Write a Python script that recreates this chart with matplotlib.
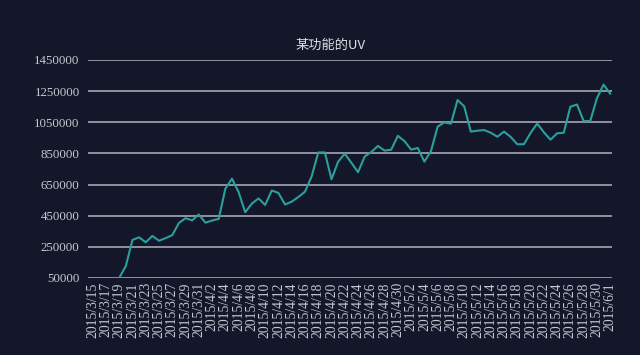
import matplotlib
matplotlib.use("Agg")
import matplotlib.pyplot as plt
import numpy as np
import datetime as dt

plt.rcParams['font.family'] = ['Noto Sans CJK SC', 'DejaVu Sans']

# Categories: every day from 2015/3/15 to 2015/6/1
start = dt.date(2015, 3, 15)
dates = [start + dt.timedelta(days=i) for i in range(79)]
date_labels = [f"{d.year}/{d.month}/{d.day}" for d in dates]

# UV values (no data before 2015/3/19)
uv = [np.nan, np.nan, np.nan, np.nan,
      50000, 127000, 294000, 311000, 279000, 320000, 289000, 306000, 325000,
      403000, 434000, 420000, 458000, 405000, 419000, 429000, 623000, 688000,
      601000, 472000, 528000, 561000, 519000, 612000, 596000, 522000, 540000,
      570000, 604000, 701000, 856000, 856000, 684000, 797000, 848000, 790000,
      729000, 830000, 859000, 898000, 868000, 874000, 963000, 929000, 874000,
      885000, 797000, 866000, 1022000, 1049000, 1041000, 1193000, 1152000,
      990000, 996000, 1000000, 983000, 957000, 990000, 956000, 909000, 909000,
      981000, 1042000, 986000, 938000, 979000, 983000, 1150000, 1164000,
      1058000, 1058000, 1204000, 1292000, 1234000]

yticks = [50000, 250000, 450000, 650000, 850000, 1050000, 1250000, 1450000]
title = "某功能的UV"

bg = "#131729"
fig = plt.figure(figsize=(6.4, 3.55), dpi=100, facecolor=bg)
ax = fig.add_axes([0.1375, 0.217, 0.819, 0.614], facecolor=bg)

x = np.arange(len(dates))
ax.plot(x, uv, color="#2a9f9c", lw=1.5, zorder=3)

ax.set_ylim(50000, 1450000)
ax.set_xlim(-0.7, 78.3)
ax.set_yticks(yticks)
ax.set_yticklabels([str(v) for v in yticks], family="Liberation Serif",
                   fontsize=9.3, color="#c8c8d0")
ax.set_xticks(x[::2])
ax.set_xticklabels(date_labels[::2], rotation=90, family="Liberation Serif",
                   fontsize=9.8, color="#c8c8d0")
ax.tick_params(axis="y", length=0, pad=6)
ax.tick_params(axis="x", length=0, pad=3)
ax.grid(axis="y", color="#9a9ca8", lw=1.3)
ax.grid(axis="x", visible=False)
for s in ax.spines.values():
    s.set_visible(False)

fig.text(0.516, 0.873, title, ha="center", va="center", color="#e0e0e6",
         fontsize=9.5)

fig.savefig("out.png", dpi=100, facecolor=bg)
